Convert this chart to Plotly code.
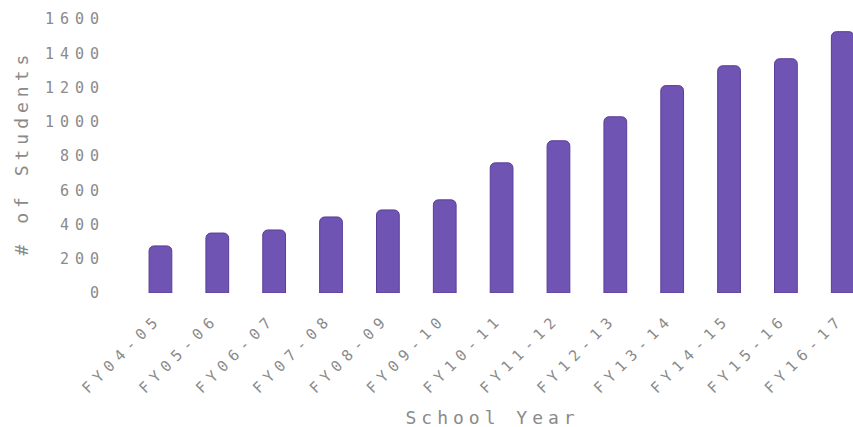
import plotly.graph_objects as go

# Enrollment by school year
years = ["FY04-05", "FY05-06", "FY06-07", "FY07-08", "FY08-09", "FY09-10", "FY10-11",
         "FY11-12", "FY12-13", "FY13-14", "FY14-15", "FY15-16", "FY16-17"]
students = [275, 350, 368, 444, 485, 544, 760, 889, 1029, 1211, 1327, 1368, 1526]

y_ticks = [0, 200, 400, 600, 800, 1000, 1200, 1400, 1600]

FONT = "DejaVu Sans Mono"
TEXT = "#8a8a8a"
BAR = "#7054b4"

fig = go.Figure(
    go.Bar(
        x=years,
        y=students,
        width=0.4,
        marker=dict(color=BAR, line=dict(color="#5a3d98", width=1), cornerradius=5),
    )
)

W, H = 853, 427
L, R, T, B = 132, 0, 19, 134
PLOT_H = H - T - B

fig.update_layout(
    width=W,
    height=H,
    margin=dict(l=L, r=R, t=T, b=B, autoexpand=False),
    paper_bgcolor="white",
    plot_bgcolor="white",
    showlegend=False,
    font=dict(family=FONT, color=TEXT),
    xaxis=dict(
        range=[-0.5, 12.18],
        automargin=False,
        tickangle=-45,
        tickfont=dict(size=15, color=TEXT),
        ticklabelshift=-3,
        ticklabelstandoff=13,
        showgrid=False,
        zeroline=False,
        showline=False,
        ticks="",
    ),
    yaxis=dict(
        range=[0, 1600],
        automargin=False,
        tickvals=y_ticks,
        tickfont=dict(size=15, color=TEXT),
        ticklabelstandoff=26,
        showgrid=False,
        zeroline=False,
        showline=False,
        ticks="",
    ),
    annotations=[
        dict(text="School Year", x=0.5, y=(293 - 417) / PLOT_H,
             xref="paper", yref="paper", xanchor="center", yanchor="middle",
             showarrow=False, font=dict(size=18, color=TEXT)),
        dict(text="# of Students", x=(21 - L) / (W - L), y=(293 - 153) / PLOT_H,
             xref="paper", yref="paper", xanchor="center", yanchor="middle",
             textangle=-90, showarrow=False, font=dict(size=18, color=TEXT)),
    ],
)

# Wide tracking on the monospace labels
spacing_js = (
    "var s=document.createElement('style');"
    "s.textContent='.xtick text{letter-spacing:6px}.ytick text{letter-spacing:6px}"
    ".annotation-text{letter-spacing:5px}';"
    "document.head.appendChild(s);"
)

fig.write_html("out.html", post_script=spacing_js)
